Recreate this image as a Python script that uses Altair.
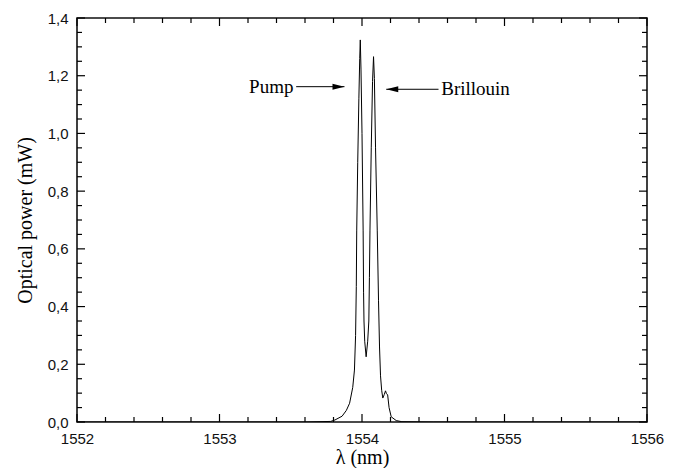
import altair as alt
import pandas as pd

# Spectrum
wl = [1552.0, 1553.6, 1553.78, 1553.81, 1553.86, 1553.89, 1553.913, 1553.935, 1553.947,
      1553.955, 1553.960, 1553.963, 1553.970, 1553.978, 1553.984, 1553.988, 1553.993,
      1554.000, 1554.008, 1554.011, 1554.014, 1554.019, 1554.029, 1554.040, 1554.048,
      1554.052, 1554.056, 1554.065, 1554.074, 1554.081, 1554.087, 1554.095, 1554.107,
      1554.116, 1554.123, 1554.130, 1554.138, 1554.146, 1554.156, 1554.165, 1554.172,
      1554.180, 1554.190, 1554.205, 1554.240, 1554.280, 1554.5, 1555.0, 1556.0]
power = [0.0, 0.0, 0.002, 0.007, 0.02, 0.04, 0.065, 0.12, 0.18,
         0.30, 0.47, 0.665, 0.90, 1.12, 1.26, 1.324, 1.22,
         1.0, 0.665, 0.45, 0.35, 0.28, 0.226, 0.28, 0.35,
         0.50, 0.665, 0.95, 1.18, 1.266, 1.19, 0.95, 0.665,
         0.42, 0.26, 0.16, 0.11, 0.083, 0.095, 0.108, 0.098,
         0.094, 0.05, 0.018, 0.005, 0.001, 0.0, 0.0, 0.0]

x_major = [1552, 1553, 1554, 1555, 1556]
x_minor = [1552.2, 1552.4, 1552.6, 1552.8, 1553.2, 1553.4, 1553.6, 1553.8,
           1554.2, 1554.4, 1554.6, 1554.8, 1555.2, 1555.4, 1555.6, 1555.8]
y_major = [0.0, 0.2, 0.4, 0.6, 0.8, 1.0, 1.2, 1.4]
y_minor = [0.05, 0.10, 0.15, 0.25, 0.30, 0.35, 0.45, 0.50, 0.55, 0.65, 0.70, 0.75,
           0.85, 0.90, 0.95, 1.05, 1.10, 1.15, 1.25, 1.30, 1.35]

# Annotations
ann_text = ["Pump", "Brillouin"]
ann_text_x = [1553.519, 1554.556]
ann_align = ["right", "left"]
ann_y = [1.162, 1.153]
arrow_from = [1553.538, 1554.537]
arrow_to = [1553.877, 1554.170]

W, H = 570, 404
XS = alt.Scale(domain=[1552, 1556], nice=False, zero=False)
YS = alt.Scale(domain=[0, 1.4], nice=False, zero=False)

spec = pd.DataFrame({"wl": wl, "p": power})
line = alt.Chart(spec).mark_line(color="black", strokeWidth=1, clip=True).encode(
    x=alt.X("wl:Q", scale=XS, title="λ (nm)",
            axis=alt.Axis(values=x_major, ticks=False, domain=False, grid=False,
                          labelFont="Liberation Sans", labelFontSize=15, labelColor="#111",
                          labelPadding=9, titleFont="Liberation Serif", titleFontSize=20,
                          titleFontWeight="normal", titleColor="black", titlePadding=1,
                          labelFlush=False, format="d")),
    y=alt.Y("p:Q", scale=YS, title="Optical power (mW)",
            axis=alt.Axis(values=y_major, ticks=False, domain=False, grid=False,
                          labelFont="Liberation Sans", labelFontSize=15, labelColor="#111",
                          labelPadding=9, labelFlush=False,
                          labelExpr="replace(format(datum.value, '.1f'), '.', ',')",
                          titleFont="Liberation Serif", titleFontSize=20,
                          titleFontWeight="normal", titleColor="black", titlePadding=12)),
)

def xticks(vals, length):
    df = pd.DataFrame({"v": vals})
    base = alt.Chart(df).mark_rule(color="black", strokeWidth=1.2)
    bottom = base.encode(x=alt.X("v:Q", scale=XS, axis=None), y=alt.value(H), y2=alt.value(H - length))
    top = base.encode(x=alt.X("v:Q", scale=XS, axis=None), y=alt.value(0), y2=alt.value(length))
    return [bottom, top]

def yticks(vals, length):
    df = pd.DataFrame({"v": vals})
    base = alt.Chart(df).mark_rule(color="black", strokeWidth=1.2)
    left = base.encode(y=alt.Y("v:Q", scale=YS, axis=None), x=alt.value(0), x2=alt.value(length))
    right = base.encode(y=alt.Y("v:Q", scale=YS, axis=None), x=alt.value(W), x2=alt.value(W - length))
    return [left, right]

ticks = xticks(x_major, 8) + xticks(x_minor, 5) + yticks(y_major, 8) + yticks(y_minor, 5)

ann = pd.DataFrame({"t": ann_text, "tx": ann_text_x, "al": ann_align, "y": ann_y,
                    "a0": arrow_from, "a1": arrow_to})

texts = [
    alt.Chart(ann.iloc[[i]]).mark_text(font="Liberation Serif", fontSize=19, color="black",
                                        align=ann_align[i], baseline="middle", dy=0).encode(
        x=alt.X("tx:Q", scale=XS, axis=None), y=alt.Y("y:Q", scale=YS, axis=None), text="t:N")
    for i in range(2)
]
shafts = alt.Chart(ann).mark_rule(color="black", strokeWidth=1).encode(
    x=alt.X("a0:Q", scale=XS, axis=None), x2="a1:Q", y=alt.Y("y:Q", scale=YS, axis=None))
heads = [
    alt.Chart(ann.iloc[[0]]).mark_point(shape="M0,0L-2,-0.5L-2,0.5Z", size=144, filled=True,
                                         color="black", opacity=1).encode(
        x=alt.X("a1:Q", scale=XS, axis=None), y=alt.Y("y:Q", scale=YS, axis=None)),
    alt.Chart(ann.iloc[[1]]).mark_point(shape="M0,0L2,-0.5L2,0.5Z", size=144, filled=True,
                                         color="black", opacity=1).encode(
        x=alt.X("a1:Q", scale=XS, axis=None), y=alt.Y("y:Q", scale=YS, axis=None)),
]

chart = alt.layer(line, *ticks, shafts, *heads, *texts).resolve_axis(
    x="independent", y="independent"
).properties(
    width=W, height=H, autosize="none",
    padding={"left": 77, "top": 18, "right": 30, "bottom": 46},
    background="white",
).configure_view(stroke="#111", strokeWidth=1.6)

chart.save("out.html", embed_options={"renderer": "svg", "actions": False})
